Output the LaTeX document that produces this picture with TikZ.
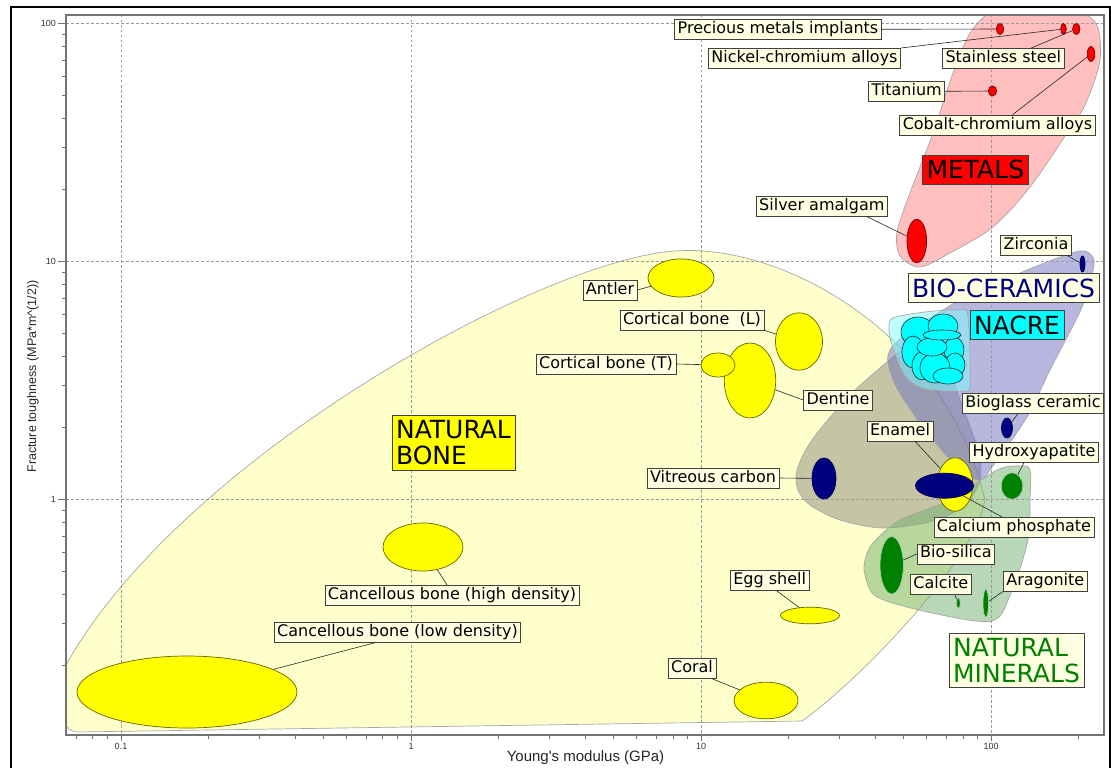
\documentclass[tikz,border=0pt]{standalone}
\usepackage{fontspec}
\setmainfont{DejaVu Sans}
\newfontfamily\axisfont{Liberation Sans}
\usetikzlibrary{shapes.geometric}

\definecolor{lblfill}{HTML}{FFFFE1}
\definecolor{bonefill}{HTML}{FFFF99}
\definecolor{metalfill}{HTML}{FF8080}
\definecolor{ceramfill}{HTML}{7070C0}
\definecolor{carbonfill}{HTML}{8C8C80}
\definecolor{nacrefill}{HTML}{80FFFF}
\definecolor{mineralfill}{HTML}{70B070}
\definecolor{navyblue}{HTML}{000080}
\definecolor{darkgreen}{HTML}{008000}
\definecolor{pureyellow}{HTML}{FFFF00}
\definecolor{purecyan}{HTML}{00FFFF}
\definecolor{purered}{HTML}{FF0000}

\tikzset{
  lbl/.style={draw=black!75, fill=lblfill, line width=0.6pt, inner xsep=3pt, inner ysep=2pt,
    text height=12pt, text depth=4pt, font=\fontsize{16}{19}\selectfont},
  grouplbl/.style={draw=black!75, line width=0.6pt, inner xsep=4pt, inner ysep=5pt, align=left,
    font=\fontsize{25}{26}\selectfont},
  spot/.style={ellipse, inner sep=0pt, line width=0.7pt},
  bonespot/.style={spot, fill=pureyellow, draw=black!60!pureyellow},
  ceramspot/.style={spot, fill=navyblue, draw=navyblue!60!black},
  metalspot/.style={spot, fill=purered, draw=purered!45!black},
  mineralspot/.style={spot, fill=darkgreen, draw=white!65!darkgreen},
  nacrespot/.style={spot, fill=purecyan, draw=black!85, line width=0.6pt},
  zone/.style={draw=black!35, line width=0.7pt, fill opacity=0.5},
  lead/.style={draw=black!85, line width=0.6pt},
  gridline/.style={draw=black!40, line width=0.6pt, dash pattern=on 2.5pt off 2.5pt},
  tickline/.style={draw=black!55, line width=0.8pt},
  ticklbl/.style={font=\axisfont\fontsize{9}{10}\selectfont, text=black!80, inner sep=1pt},
  axistitle/.style={font=\axisfont\fontsize{15}{17}\selectfont, text=black!85, inner sep=0pt},
}

\begin{document}
\begin{tikzpicture}[x=1pt,y=-1pt]
\useasboundingbox (0,0) rectangle (1111,768);

% outer border
\draw[line width=2pt] (11,768) -- (11,7) -- (1110,7) -- (1110,768);

% material zones
\begin{scope}
\clip (66,15) rectangle (1104,735);
\path[zone, fill=bonefill] (66,723) -- (66,665) .. controls (180,460) and (540,260) .. (675,251)
  .. controls (780,243) and (945,330) .. (985,500) .. controls (975,560) and (860,680) .. (802,721)
  -- (77,732) .. controls (70,731) and (66,728) .. cycle;
\path[zone, fill=carbonfill] plot[smooth cycle] coordinates {(797,470) (812,440) (850,395) (893,357)
  (915,340) (940,345) (960,400) (978,450) (980,480) (965,505) (933,521) (883,528) (840,520) (810,505) (798,490)};
\path[zone, fill=ceramfill] plot[smooth cycle] coordinates {(1089,253) (1094,265) (1082,307) (1050,370)
  (1027,417) (995,463) (980,480) (960,470) (925,430) (895,385) (888,355) (905,335) (960,300) (1027,270) (1075,252)};
\path[zone, fill=nacrefill] plot[smooth cycle] coordinates {(893,318) (925,312) (960,310) (968,316)
  (970,385) (962,391) (925,389) (905,376) (892,345) (889,328)};
\path[zone, fill=metalfill] plot[smooth cycle] coordinates {(1000,8) (1060,6) (1095,22) (1100,60)
  (1085,105) (1067,133) (1030,187) (993,227) (950,253) (920,267) (900,256) (897,232) (910,193)
  (933,133) (953,73) (972,30)};
\path[zone, fill=mineralfill] plot[smooth cycle] coordinates {(1030,470) (1030,500) (1028,540)
  (1011,593) (992,621) (932,613) (877,597) (865,575) (865,560) (873,543) (900,520) (950,500)
  (997,470) (1020,466)};
\end{scope}

% grid
\foreach \yy in {23.3,261.3,499.3}
  \draw[gridline] (66,\yy) -- (1104,\yy);
\foreach \xx in {121,411,701,991}
  \draw[gridline] (\xx,15) -- (\xx,735);

% axes and ticks
\draw[draw=black!55, line width=1.5pt] (66,15) rectangle (1104,735);
\foreach \yy in {737.3,499.3,261.3}
  \foreach \m in {2,...,9} {
    \pgfmathsetmacro\ty{\yy-238*log10(\m)}
    \draw[tickline] (62,\ty) -- (66,\ty);
  }
\foreach \dx in {-169,121,411,701,991}
  \foreach \m in {2,...,9} {
    \pgfmathsetmacro\tx{\dx+290*log10(\m)}
    \pgfmathtruncatemacro\ok{and(\tx>66,\tx<1104)}
    \ifnum\ok=1 \draw[tickline] (\tx,735) -- (\tx,739); \fi
  }
\foreach \v/\yy in {100/23.3,10/261.3,1/499.3} {
  \draw[tickline] (58,\yy) -- (66,\yy);
  \node[ticklbl, anchor=east] (yt\v) at (57,\yy) {\v};
}
\foreach \v/\xx/\nm in {0.1/121/a,1/411/b,10/701/c,100/991/d} {
  \draw[tickline] (\xx,735) -- (\xx,741);
  \node[ticklbl] (xt\nm) at (\xx,746) {\v};
}
\node[axistitle] (xTitle) at (585.5,758) {Young's modulus (GPa)};
\node[axistitle, rotate=90, font=\axisfont\fontsize{12.5}{14}\selectfont] (yTitle) at (33,376.5)
  {Fracture toughness (MPa*m\textasciicircum(1/2))};

% metals
\node[metalspot, minimum width=7.4pt, minimum height=11pt] (precious) at (1000,29) {};
\node[metalspot, minimum width=5.6pt, minimum height=11pt] (nicr) at (1063.5,29) {};
\node[metalspot, minimum width=7.4pt, minimum height=11pt] (ss) at (1076.3,29) {};
\node[metalspot, minimum width=7.6pt, minimum height=15pt] (cocr) at (1091,54) {};
\node[metalspot, minimum width=8.4pt, minimum height=10pt] (ti) at (992.5,91) {};
\node[metalspot, minimum width=19.6pt, minimum height=43.4pt] (silver) at (916.8,241) {};

% bio-ceramics
\node[ceramspot, minimum width=5pt, minimum height=16pt] (zr) at (1082.5,264) {};
\node[ceramspot, minimum width=11pt, minimum height=20pt] (bioglass) at (1007,428) {};
\node[ceramspot, minimum width=24pt, minimum height=41pt] (vc) at (824,478.5) {};

% natural bone
\node[bonespot, minimum width=66pt, minimum height=38pt] (antler) at (681,278) {};
\node[bonespot, minimum width=47pt, minimum height=57.4pt] (cortL) at (799,341.5) {};
\node[bonespot, minimum width=51.4pt, minimum height=75pt] (dent) at (750,380.5) {};
\node[bonespot, minimum width=34pt, minimum height=24pt] (cortT) at (718,365) {};
\node[bonespot, minimum width=80pt, minimum height=48pt] (cancH) at (423,547) {};
\node[bonespot, minimum width=220pt, minimum height=72pt] (cancL) at (187,692) {};
\node[bonespot, minimum width=59pt, minimum height=16.6pt] (egg) at (810,615.5) {};
\node[bonespot, minimum width=64pt, minimum height=36.6pt] (coral) at (766,700.5) {};
\node[bonespot, minimum width=35.4pt, minimum height=53.6pt] (enamel) at (955,484.5) {};
\node[ceramspot, minimum width=58pt, minimum height=25pt] (cap) at (944.5,485.7) {};

% natural minerals
\node[mineralspot, minimum width=21.6pt, minimum height=26.6pt] (ha) at (1012,486) {};
\node[mineralspot, minimum width=23.4pt, minimum height=57.4pt] (bs) at (891.7,565.3) {};
\node[mineralspot, minimum width=4pt, minimum height=10.6pt] (calcite) at (958.3,603) {};
\node[mineralspot, minimum width=5.6pt, minimum height=28pt] (arag) at (985.8,603.3) {};

% nacre tablets
\foreach \i/\cx/\cy/\rx/\ry in {1/918/332/17/15, 2/943/326/15/12, 3/913/352/11/16, 4/954/350/10/13,
    5/955/365/10/12, 6/922/366/10/14, 7/935/368/15/15, 8/932/347/15/9, 9/942/335/19/5, 10/948/376/15/8}
  \node[nacrespot, minimum width=2*\rx pt, minimum height=2*\ry pt] (nac\i) at (\cx,\cy) {};

% labels
\node[lbl] (preciousLbl) at (778,29.3) {Precious metals implants};
\node[lbl] (nicrLbl) at (804.5,58.3) {Nickel-chromium alloys};
\node[lbl] (ssLbl) at (1003.3,58.3) {Stainless steel};
\node[lbl] (tiLbl) at (906.7,91.3) {Titanium};
\node[lbl] (cocrLbl) at (997.5,125) {Cobalt-chromium alloys};
\node[lbl] (silverLbl) at (821.8,206.3) {Silver amalgam};
\node[lbl] (zrLbl) at (1036,245) {Zirconia};
\node[lbl] (bioglassLbl) at (1033,403.5) {Bioglass ceramic};
\node[lbl] (haLbl) at (1034,452.3) {Hydroxyapatite};
\node[lbl] (enamelLbl) at (900,431) {Enamel};
\node[lbl] (capLbl) at (1014,527.2) {Calcium phosphate};
\node[lbl] (vcLbl) at (713,478) {Vitreous carbon};
\node[lbl] (antlerLbl) at (610,290) {Antler};
\node[lbl] (cortLLbl) at (692,320) {Cortical bone~ (L)};
\node[lbl] (cortTLbl) at (606,364) {Cortical bone (T)};
\node[lbl] (dentLbl) at (838,400) {Dentine};
\node[lbl] (cancHLbl) at (452,595.3) {Cancellous bone (high density)};
\node[lbl] (cancLLbl) at (397.5,632) {Cancellous bone (low density)};
\node[lbl] (eggLbl) at (769.7,580.5) {Egg shell};
\node[lbl] (coralLbl) at (692,668.5) {Coral};
\node[lbl] (bsLbl) at (956,553.8) {Bio-silica};
\node[lbl] (calciteLbl) at (940.8,584.5) {Calcite};
\node[lbl] (aragLbl) at (1045.3,581.2) {Aragonite};

% group titles
\node[grouplbl, fill=purered] (metalsLbl) at (975.3,169.5) {METALS};
\node[grouplbl, fill=lblfill, text=navyblue] (ceramLbl) at (1003.5,288) {BIO-CERAMICS};
\node[grouplbl, fill=purecyan] (nacreLbl) at (1017,325) {NACRE};
\node[grouplbl, fill=pureyellow] (boneLbl) at (453.5,443) {NATURAL\\BONE};
\node[grouplbl, fill=lblfill, text=darkgreen] (mineralsLbl) at (1016.5,660.5) {NATURAL\\MINERALS};

% leader lines
\draw[lead] (preciousLbl.east) -- (precious);
\draw[lead] (nicrLbl.north east) -- (nicr);
\draw[lead] ([xshift=28pt]ssLbl.north) -- (ss);
\draw[lead] (tiLbl.east) -- (ti);
\draw[lead] ([xshift=15pt]cocrLbl.north) -- (cocr);
\draw[lead] ([xshift=45pt]silverLbl.south) -- (silver);
\draw[lead] ([xshift=-5pt]zrLbl.south east) -- (zr);
\draw[lead] ([xshift=-15pt]bioglassLbl.south) -- (bioglass);
\draw[lead] ([xshift=-10pt]haLbl.south) -- (ha);
\draw[lead] ([xshift=15pt]enamelLbl.south) -- (enamel);
\draw[lead] ([xshift=-12pt]capLbl.north) -- (cap);
\draw[lead] (vcLbl.east) -- (vc);
\draw[lead] (antlerLbl.east) -- (antler);
\draw[lead] (cortLLbl.south east) -- (cortL);
\draw[lead] (cortTLbl.east) -- (cortT);
\draw[lead] (dentLbl.west) -- (dent);
\draw[lead] ([xshift=-5pt]cancHLbl.north) -- (cancH);
\draw[lead] ([xshift=-21pt]cancLLbl.south) -- (cancL);
\draw[lead] ([xshift=7pt]eggLbl.south) -- (egg);
\draw[lead] ([xshift=-4pt]coralLbl.south east) -- (coral);
\draw[lead] (bsLbl.west) -- (bs);
\draw[lead] ([xshift=14pt]calciteLbl.south) -- (calcite);
\draw[lead] (aragLbl.south west) -- (arag);

\end{tikzpicture}
\end{document}
